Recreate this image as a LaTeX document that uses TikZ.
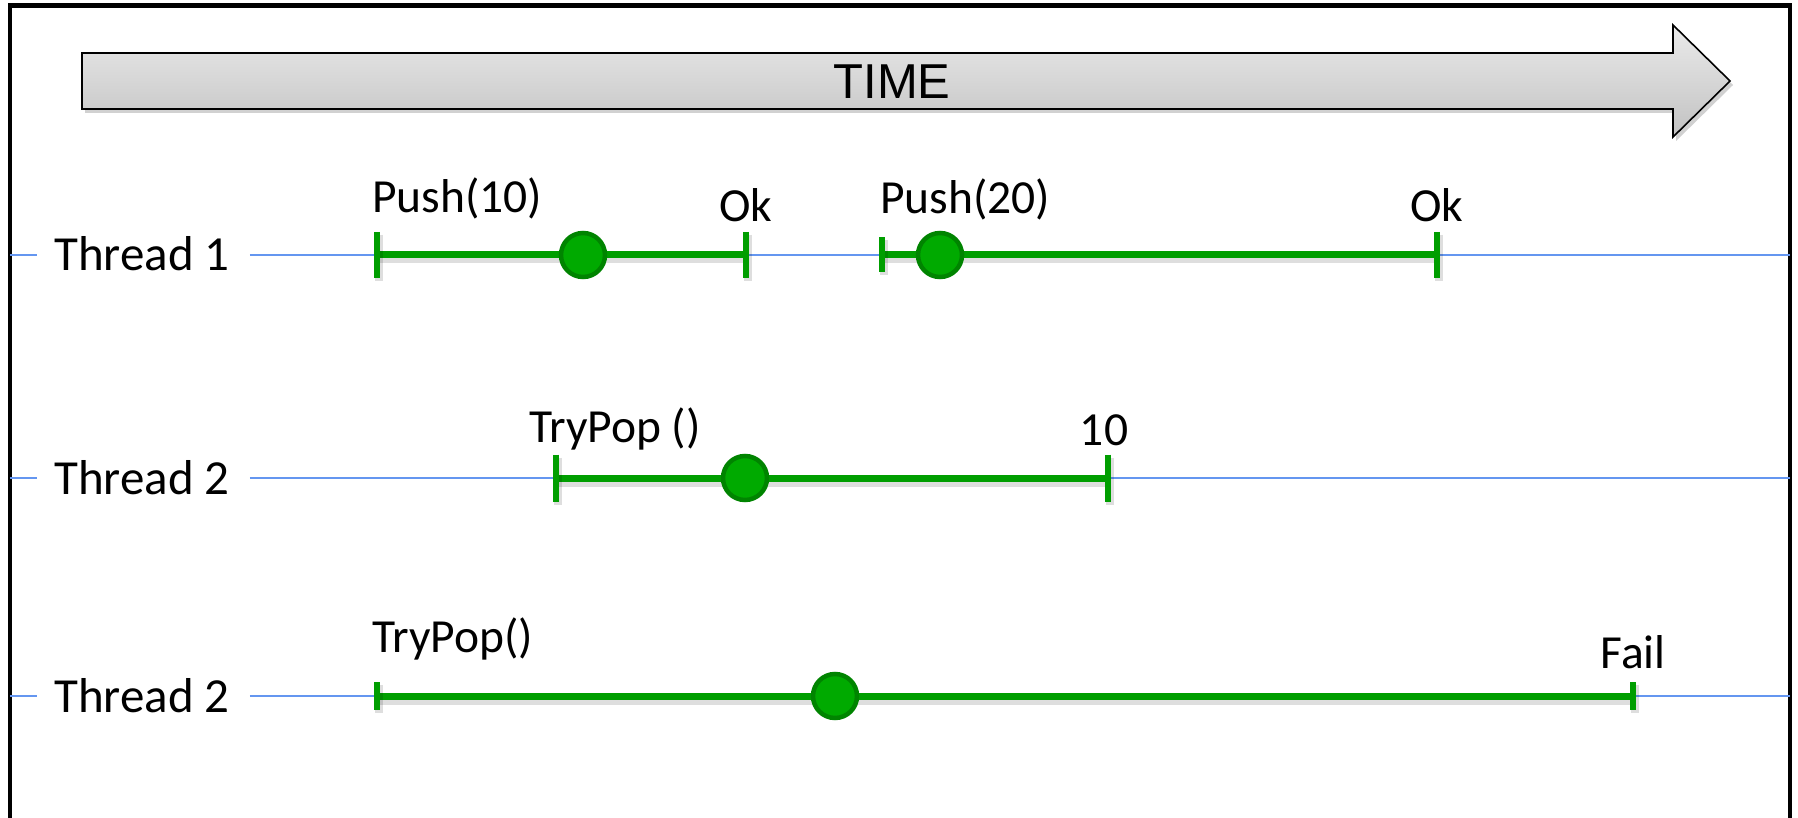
\documentclass[tikz,border=0pt]{standalone}
\usepackage{fontspec}
\setmainfont{Carlito}
\newfontfamily\timefont{Liberation Sans}
\usetikzlibrary{calc}

\definecolor{opgreen}{RGB}{0,158,0}
\definecolor{dotfill}{RGB}{0,170,0}
\definecolor{dotedge}{RGB}{0,132,0}
\definecolor{threadblue}{RGB}{100,150,240}

\tikzset{
  threadlabel/.style={inner xsep=20pt, inner ysep=0pt, anchor=base west,
    font=\fontsize{49}{58}\selectfont},
  oplabel/.style={inner sep=0pt, font=\fontsize{47.5}{56}\selectfont},
  threadline/.style={draw=threadblue, line width=2pt},
  softshadow/.style={preaction={draw=black, opacity=0.13, line width=10pt,
    transform canvas={shift={(1.5pt,-3.5pt)}}}},
  opspan/.style={draw=opgreen, line width=7pt, softshadow},
  optick/.style={draw=opgreen, line width=6.5pt,
    preaction={draw=black, opacity=0.13, line width=8pt,
      transform canvas={shift={(2pt,-3pt)}}}},
  linpoint/.style={circle, fill=dotfill, draw=dotedge, line width=4.5pt,
    minimum size=44pt, inner sep=0pt},
  timearrow/.style={draw=black, line width=1.6pt, top color=gray!16,
    bottom color=gray!48,
    preaction={fill=black, opacity=0.18,
      transform canvas={shift={(3pt,-4pt)}}}},
}

% vertical end mark of an operation: coordinate, half height
\newcommand\optickat[2]{\draw[optick] ([yshift=#2pt]#1) -- ([yshift=-#2pt]#1);}

\begin{document}
\begin{tikzpicture}[x=1pt, y=-1pt]
  \clip (0,0) rectangle (1798,818);
  \fill[white] (0,0) rectangle (1798,818);

  % outer frame (open at the bottom)
  \draw[line width=4.5pt] (10,840) -- (10,5.5) -- (1790,5.5) -- (1790,840);

  % time arrow
  \path[timearrow] (82,53) -- (1673,53) -- (1673,25) -- (1730,81)
    -- (1673,137) -- (1673,109) -- (82,109) -- cycle;
  \node[font=\timefont\fontsize{49}{58}\selectfont, inner sep=0pt]
    (timelabel) at (892,82) {TIME};

  % thread labels
  \node[threadlabel] (th1) at (34,271) {Thread 1};
  \node[threadlabel] (th2) at (34,494) {Thread 2};
  \node[threadlabel] (th3) at (34,712) {Thread 2};

  % thread time lines
  \coordinate (L1) at (10,255);  \coordinate (R1) at (1790,255);
  \coordinate (L2) at (10,478);  \coordinate (R2) at (1790,478);
  \coordinate (L3) at (10,696);  \coordinate (R3) at (1790,696);
  \foreach \i in {1,2,3} {
    \draw[threadline] (L\i) -- ([xshift=3pt]L\i -| th\i.west);
    \draw[threadline] (th\i.east |- L\i) -- (R\i);
  }

  % operation start / end points
  \coordinate (a1s) at (377,255);  \coordinate (a1e) at (746,255);
  \coordinate (b1s) at (882,255);  \coordinate (b1e) at (1437,255);
  \coordinate (a2s) at (556,478);  \coordinate (a2e) at (1108,478);
  \coordinate (a3s) at (377,696);  \coordinate (a3e) at (1633,696);

  % operation intervals
  \draw[opspan] (a1s) -- (a1e);
  \draw[opspan] (b1s) -- (b1e);
  \draw[opspan] (a2s) -- (a2e);
  \draw[opspan] (a3s) -- (a3e);

  \optickat{a1s}{23} \optickat{a1e}{23}
  \optickat{b1s}{17.5} \optickat{b1e}{23}
  \optickat{a2s}{23.5} \optickat{a2e}{23.5}
  \optickat{a3s}{14} \optickat{a3e}{14}

  % linearization points
  \node[linpoint] (p1) at (583,255) {};
  \node[linpoint] (p2) at (940,255) {};
  \node[linpoint] (p3) at (745,478) {};
  \node[linpoint] (p4) at (835,696) {};

  % call and result labels
  \node[oplabel, anchor=base west] (c1) at (372,213) {Push(10)};
  \node[oplabel, anchor=base] (r1) at (746,222) {Ok};
  \node[oplabel, anchor=base west] (c2) at (880,214) {Push(20)};
  \node[oplabel, anchor=base] (r2) at (1437,222) {Ok};
  \node[oplabel, anchor=base west] (c3) at (529,442) {TryPop ()};
  \node[oplabel, anchor=base] (r3) at (1104,445) {10};
  \node[oplabel, anchor=base west] (c4) at (372,652) {TryPop()};
  \node[oplabel, anchor=base] (r4) at (1633,668) {Fail};
\end{tikzpicture}
\end{document}
